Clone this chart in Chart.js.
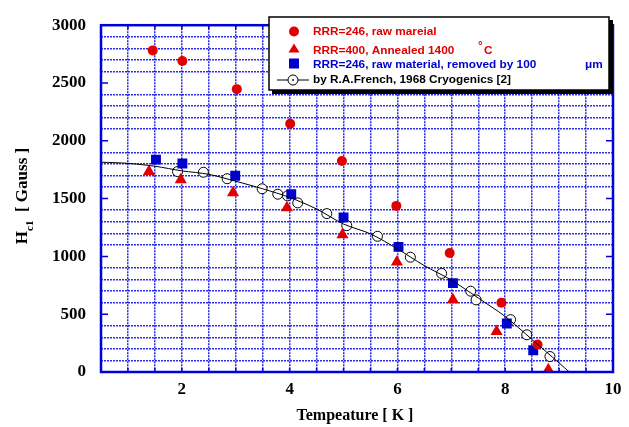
<!DOCTYPE html>
<html>
<head>
<meta charset="utf-8">
<script src="https://cdn.jsdelivr.net/npm/chart.js@4.4.1/dist/chart.umd.min.js"></script>
<style>
  html, body { margin: 0; padding: 0; background: #fff; }
  #chart { display: block; }
</style>
</head>
<body>
<canvas id="chart" width="629" height="427"></canvas>
<script>
// RRR=246, raw material (red circles)
var rawT = [1.46, 2.01, 3.02, 4.01, 4.97, 5.98, 6.97, 7.93, 8.60];
var rawH = [2782, 2690, 2447, 2147, 1826, 1437, 1029, 599, 238];

// RRR=400, annealed 1400 C (red triangles)
var annealT = [1.39, 1.98, 2.95, 3.95, 4.98, 5.99, 7.03, 7.84, 8.80];
var annealH = [1734, 1664, 1551, 1421, 1188, 951, 624, 350, 20];

// RRR=246, removed by 100 um (blue squares)
var removedT = [1.52, 2.01, 2.99, 4.03, 5.00, 6.02, 7.03, 8.03, 8.52];
var removedH = [1837, 1803, 1698, 1538, 1337, 1082, 769, 419, 188];

// R.A.French 1968 (open circles)
var frenchT = [1.92, 2.40, 2.84, 3.49, 3.78, 3.96, 4.15, 4.69, 5.06, 5.63, 6.24, 6.82, 7.36, 7.46, 8.10, 8.40, 8.83];
var frenchH = [1734, 1728, 1672, 1585, 1538, 1524, 1463, 1370, 1266, 1174, 993, 853, 699, 624, 453, 322, 134];

// curve drawn through the French data
var curveT = [0.5, 1.0, 1.5, 2.0, 2.5, 3.0, 3.5, 4.0, 4.5, 5.0, 5.5, 6.0, 6.5, 7.0, 7.5, 8.0, 8.5, 9.0, 9.19];
var curveH = [1815, 1805, 1780, 1740, 1710, 1650, 1585, 1510, 1410, 1280, 1195, 1065, 920, 795, 640, 480, 280, 78, 0];

var legendLabels = ['RRR=246, raw mareial', 'RRR=400, Annealed 1400', 'RRR=246, raw material, removed by 100', 'by R.A.French, 1968 Cryogenics [2]'];
var legendUnits = ['', '\u00b0C', '\u03bcm', ''];

var xTitle = 'Tempeature [ K ]';
var yTitleMain = 'H';
var yTitleSub = 'c1';
var yTitleRest = '  [ Gauss ]';

var RED = '#e00000';
var BLUE = '#0000cc';
var GRID = 'rgba(20, 20, 235, 0.9)';
var SERIF = "'Liberation Serif', 'Times New Roman', serif";
var SANS = "'Liberation Sans', Arial, sans-serif";

function pts(xs, ys) {
  return xs.map(function(x, i) { return {x: x, y: ys[i]}; });
}

// frame, inward ticks, titles and the boxed legend
var decorPlugin = {
  id: 'decor',
  afterDraw: function(chart) {
    var ctx = chart.ctx;
    var a = chart.chartArea;
    var xs = chart.scales.x, ys = chart.scales.y;
    ctx.save();

    // frame
    ctx.strokeStyle = '#0000dd';
    ctx.lineWidth = 2.5;
    ctx.strokeRect(a.left, a.top, a.right - a.left, a.bottom - a.top);

    // inward ticks
    ctx.lineWidth = 1.5;
    ctx.beginPath();
    for (var v = 500; v < 3000; v += 500) {
      var py = ys.getPixelForValue(v);
      ctx.moveTo(a.left, py); ctx.lineTo(a.left + 7, py);
      ctx.moveTo(a.right, py); ctx.lineTo(a.right - 7, py);
    }
    for (var t = 1; t < 10; t += 0.5) {
      var px = xs.getPixelForValue(t);
      ctx.moveTo(px, a.bottom); ctx.lineTo(px, a.bottom - 4);
      ctx.moveTo(px, a.top); ctx.lineTo(px, a.top + 4);
    }
    ctx.stroke();

    // x title
    ctx.fillStyle = '#000';
    ctx.font = 'bold 16px ' + SERIF;
    ctx.textAlign = 'center';
    ctx.textBaseline = 'middle';
    ctx.fillText(xTitle, (a.left + a.right) / 2 - 2, 416);

    // y title with subscript
    ctx.save();
    ctx.translate(23, 196);
    ctx.rotate(-Math.PI / 2);
    ctx.textAlign = 'left';
    ctx.font = 'bold 17px ' + SERIF;
    var w1 = ctx.measureText(yTitleMain).width;
    var w3 = ctx.measureText(yTitleRest).width;
    ctx.font = 'bold 11px ' + SERIF;
    var w2 = ctx.measureText(yTitleSub).width;
    var x0 = -(w1 + w2 + w3) / 2;
    ctx.font = 'bold 17px ' + SERIF;
    ctx.fillText(yTitleMain, x0, 0);
    ctx.fillText(yTitleRest, x0 + w1 + w2, 0);
    ctx.font = 'bold 11px ' + SERIF;
    ctx.fillText(yTitleSub, x0 + w1, 7);
    ctx.restore();

    // legend box
    var bx = 269, by = 17, bw = 340, bh = 73;
    ctx.fillStyle = '#000';
    ctx.fillRect(bx + 3, by + 3, bw + 1, bh + 1);
    ctx.fillStyle = '#fff';
    ctx.fillRect(bx, by, bw, bh);
    ctx.strokeStyle = '#000';
    ctx.lineWidth = 1.5;
    ctx.strokeRect(bx, by, bw, bh);

    var mx = 294, tx = 313;
    var rows = [31.5, 51, 64.5, 80];
    // markers
    ctx.fillStyle = RED;
    ctx.beginPath(); ctx.arc(mx, rows[0], 5, 0, Math.PI * 2); ctx.fill();
    ctx.beginPath();
    ctx.moveTo(mx, 43.5); ctx.lineTo(mx + 5.5, 52.5); ctx.lineTo(mx - 5.5, 52.5); ctx.closePath(); ctx.fill();
    ctx.fillStyle = BLUE;
    ctx.fillRect(mx - 5, 58.5, 10, 10);
    ctx.strokeStyle = '#000';
    ctx.lineWidth = 1;
    ctx.beginPath(); ctx.moveTo(277, rows[3]); ctx.lineTo(309, rows[3]); ctx.stroke();
    ctx.fillStyle = '#fff';
    ctx.beginPath(); ctx.arc(mx - 1, rows[3], 5, 0, Math.PI * 2); ctx.fill(); ctx.stroke();
    ctx.fillStyle = '#000';
    ctx.beginPath(); ctx.arc(mx - 1, rows[3], 0.9, 0, Math.PI * 2); ctx.fill();

    // texts
    var colors = [RED, RED, BLUE, '#000'];
    ctx.font = 'bold 11.8px ' + SANS;
    ctx.textAlign = 'left';
    ctx.textBaseline = 'middle';
    for (var i = 0; i < legendLabels.length; i++) {
      ctx.fillStyle = colors[i];
      ctx.fillText(legendLabels[i], tx, rows[i]);
    }
    // units placed like the original
    ctx.fillStyle = RED;
    ctx.fillText(legendUnits[1].charAt(0), 478, rows[1] - 5);
    ctx.fillText(legendUnits[1].charAt(1), 484, rows[1]);
    ctx.fillStyle = BLUE;
    ctx.fillText(legendUnits[2], 585, rows[2]);

    ctx.restore();
  }
};

var ctx = document.getElementById('chart').getContext('2d');
var chart = new Chart(ctx, {
  type: 'scatter',
  data: {
    datasets: [
      {
        label: 'curve',
        data: pts(curveT, curveH),
        showLine: true,
        borderColor: '#000',
        borderWidth: 1,
        pointRadius: 0,
        tension: 0.3
      },
      {
        label: legendLabels[0],
        data: pts(rawT, rawH),
        pointStyle: 'circle',
        pointRadius: 5,
        backgroundColor: RED,
        borderColor: RED,
        borderWidth: 0
      },
      {
        label: legendLabels[1],
        data: pts(annealT, annealH),
        pointStyle: 'triangle',
        pointRadius: 7,
        backgroundColor: RED,
        borderColor: RED,
        borderWidth: 0
      },
      {
        label: legendLabels[2],
        data: pts(removedT, removedH),
        pointStyle: 'rect',
        pointRadius: 7,
        backgroundColor: BLUE,
        borderColor: BLUE,
        borderWidth: 0
      },
      {
        label: legendLabels[3],
        data: pts(frenchT, frenchH),
        pointStyle: 'circle',
        pointRadius: 5,
        backgroundColor: '#fff',
        borderColor: '#000',
        borderWidth: 1
      },
      {
        label: 'centre dots',
        data: pts(frenchT, frenchH),
        pointStyle: 'circle',
        pointRadius: 0.9,
        backgroundColor: '#000',
        borderWidth: 0
      }
    ]
  },
  options: {
    responsive: false,
    animation: false,
    devicePixelRatio: 1,
    layout: { padding: { top: 14, right: 16, left: 0, bottom: 0 } },
    plugins: {
      legend: { display: false },
      tooltip: { enabled: false }
    },
    scales: {
      x: {
        type: 'linear',
        min: 0.5,
        max: 10,
        afterFit: function(s) { s.height = 55; },
        grid: {
          color: function(c) {
            var v = c.tick ? c.tick.value : 0;
            return (v === 0.5 || v === 10) ? 'rgba(0,0,0,0)' : GRID;
          },
          lineWidth: 1.5,
          drawTicks: false
        },
        border: { display: false, dash: [2, 1] },
        ticks: {
          stepSize: 0.5,
          autoSkip: false,
          maxRotation: 0,
          padding: 7,
          color: '#000',
          font: { family: SERIF, size: 17, weight: 'bold' },
          callback: function(v) { return v % 2 === 0 ? v : ''; }
        }
      },
      y: {
        min: 0,
        max: 3000,
        afterFit: function(s) { s.width = 101; },
        grid: {
          color: function(c) {
            var v = c.tick ? c.tick.value : 0;
            return v % 500 === 0 ? 'rgba(0,0,0,0)' : GRID;
          },
          lineWidth: 1.5,
          drawTicks: false
        },
        border: { display: false, dash: [2, 1] },
        ticks: {
          stepSize: 100,
          autoSkip: false,
          padding: 15,
          color: '#000',
          font: { family: SERIF, size: 17, weight: 'bold' },
          callback: function(v) { return v % 500 === 0 ? v : ''; }
        }
      }
    }
  },
  plugins: [decorPlugin]
});
</script>
</body>
</html>
